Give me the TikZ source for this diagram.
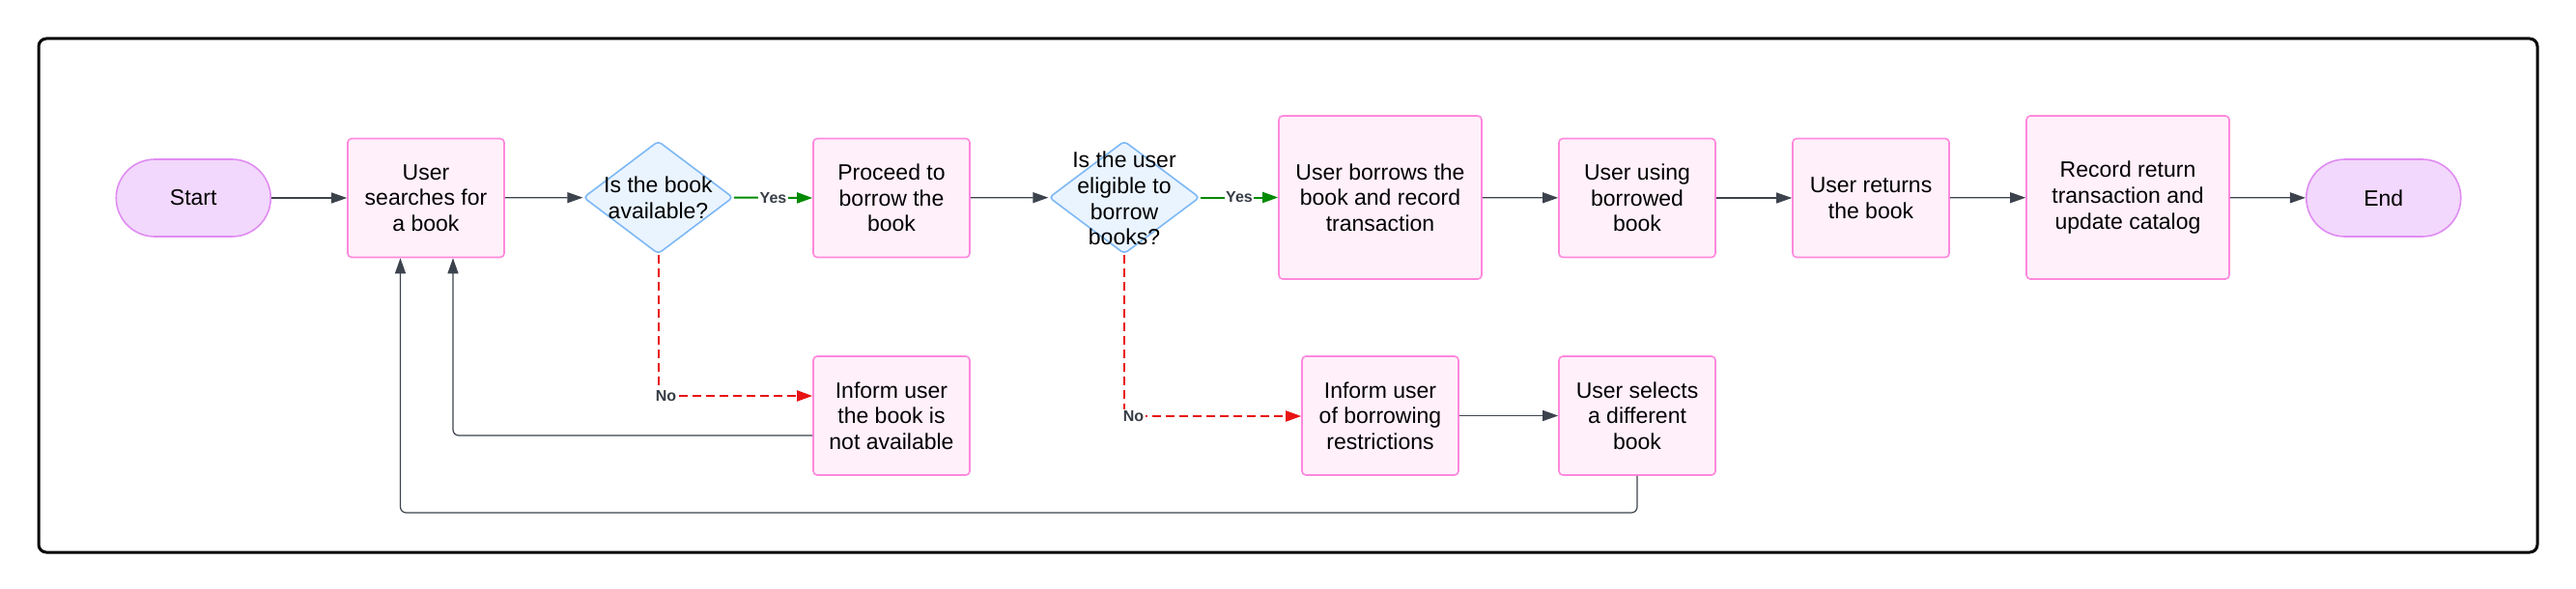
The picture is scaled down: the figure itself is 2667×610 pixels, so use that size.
\documentclass[tikz,border=0pt]{standalone}
\usepackage{fontspec}
\setmainfont{Liberation Sans}
\usetikzlibrary{shapes.geometric,arrows.meta}
\definecolor{boxfill}{HTML}{FFF0FA}
\definecolor{boxline}{HTML}{FF88DD}
\definecolor{dfill}{HTML}{EAF4FF}
\definecolor{dline}{HTML}{7DB8F5}
\definecolor{tfill}{HTML}{F2D8FC}
\definecolor{tline}{HTML}{E08CF2}
\definecolor{conncol}{HTML}{3C434D}
\definecolor{yescol}{HTML}{008A00}
\definecolor{nocol}{HTML}{E81313}
\definecolor{lblcol}{HTML}{383E47}
\begin{document}
\begin{tikzpicture}[x=1pt,y=-1pt,
  every node/.style={font=\fontsize{23}{26.7}\selectfont},
  procbox/.style={draw=boxline, fill=boxfill, line width=1.6pt, rounded corners=4pt,
    inner sep=0pt, align=center, minimum width=162pt, minimum height=123pt},
  bigbox/.style={procbox, minimum width=210pt, minimum height=169pt},
  termbox/.style={draw=tline, fill=tfill, line width=1.6pt, rounded corners=40pt,
    inner sep=0pt, align=center, minimum width=160pt, minimum height=80pt},
  decbox/.style={diamond, draw=dline, fill=dfill, line width=1.6pt, rounded corners=4pt,
    inner sep=0pt, minimum width=155pt, minimum height=117pt},
  dectext/.style={align=center, inner sep=0pt},
  conn/.style={draw=conncol, line width=1.2pt, -{Triangle[length=16pt,width=11pt]}},
  yesconn/.style={draw=yescol, line width=2pt, -{Triangle[length=16pt,width=11pt,fill=yescol]}},
  noconn/.style={draw=nocol, line width=2pt, dash pattern=on 9pt off 5pt,
    -{Triangle[length=16pt,width=11pt,fill=nocol]}},
  lbl/.style={font=\fontsize{16}{18}\selectfont\bfseries, text=lblcol, fill=white, inner sep=1.5pt},
  back/.style={draw=conncol, line width=1.2pt, rounded corners=6pt, -{Triangle[length=16pt,width=11pt]}}
]
\useasboundingbox (0,0) rectangle (2667,610);
\draw[line width=3pt, rounded corners=8pt] (40,40) rectangle (2627,572);

% main row
\node[termbox] (start) at (200.25,205) {Start};
\node[procbox] (srch) at (441,205) {User\\searches for\\a book};
\node[decbox] (d1) at (681.5,204.5) {};
\node[dectext] (d1t) at (d1.center) {Is the book\\available?};
\node[procbox] (proc) at (923,205) {Proceed to\\borrow the\\book};
\node[decbox, minimum width=156pt] (d2) at (1164,204.5) {};
\node[dectext] (d2t) at (1164,205.5) {Is the user\\eligible to\\borrow\\books?};
\node[bigbox] (borrow) at (1429,204.5) {User borrows the\\book and record\\transaction};
\node[procbox] (using) at (1695,205) {User using\\borrowed\\book};
\node[procbox] (ret) at (1937,205) {User returns\\the book};
\node[bigbox] (rec) at (2203,204.5) {Record return\\transaction and\\update catalog};
\node[termbox] (endn) at (2467.75,205) {End};

% lower row
\node[procbox] (inf1) at (923,430.5) {Inform user\\the book is\\not available};
\node[procbox] (inf2) at (1429,430.5) {Inform user\\of borrowing\\restrictions};
\node[procbox] (sel) at (1695,430.5) {User selects\\a different\\book};

% main connectors
\draw[conn] (start) -- (srch);
\draw[conn] (srch) -- (d1);
\draw[yesconn] (d1.east) -- node[lbl] (yes1) {Yes} (proc.west);
\draw[conn] (proc) -- (d2);
\draw[yesconn] (d2.east) -- node[lbl] (yes2) {Yes} (borrow.west);
\draw[conn] (borrow) -- (using);
\draw[conn] (using) -- (ret);
\draw[conn] (ret) -- (rec);
\draw[conn] (rec) -- (endn);

% no branches
\coordinate (n1) at (681.5,410);
\draw[noconn] (d1.south) -- (n1) -- (inf1.west |- n1);
\node[lbl] (no1) at (689.5,410) {No};
\coordinate (n2) at (1164,431);
\draw[noconn] (d2.south) -- (n2) -- (inf2.west |- n2);
\node[lbl] (no2) at (1173.5,431) {No};

\draw[conn] (inf2.east) -- (sel.west);

% return paths
\coordinate (r1a) at (469,451);
\draw[back] (inf1.west |- r1a) -- (r1a) -- (r1a |- srch.south);
\coordinate (r2a) at (1695,531);
\coordinate (r2b) at (414.5,531);
\draw[back] (sel.south) -- (r2a) -- (r2b) -- (r2b |- srch.south);
\end{tikzpicture}
\end{document}
